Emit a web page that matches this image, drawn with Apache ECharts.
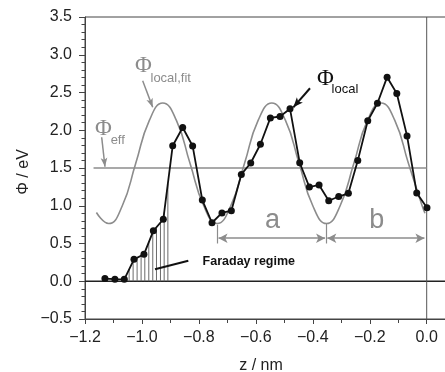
<!DOCTYPE html>
<html><head><meta charset="utf-8">
<script src="https://cdn.jsdelivr.net/npm/echarts@6/dist/echarts.min.js"></script>
<style>html,body{margin:0;padding:0;background:#fff}#c{width:445px;height:372px}</style>
</head><body><div id="c"></div>
<script>
// ---- data ----
const localZ = [-1.130,-1.095,-1.062,-1.028,-0.993,-0.960,-0.925,-0.892,-0.857,-0.822,-0.788,-0.754,-0.719,-0.686,-0.651,-0.618,-0.584,-0.549,-0.515,-0.480,-0.446,-0.412,-0.378,-0.344,-0.309,-0.275,-0.242,-0.207,-0.173,-0.139,-0.105,-0.069,-0.035,0.001];
const localPhi = [0.035,0.027,0.025,0.290,0.357,0.668,0.821,1.795,2.036,1.792,1.075,0.775,0.905,0.934,1.415,1.566,1.815,2.163,2.182,2.284,1.570,1.247,1.275,1.066,1.122,1.164,1.598,2.125,2.358,2.703,2.486,1.925,1.170,0.972];
const fitZ = [-1.160,-1.117,-1.069,-1.022,-0.974,-0.927,-0.879,-0.831,-0.783,-0.736,-0.688,-0.640,-0.592,-0.544,-0.496,-0.448,-0.400,-0.352,-0.304,-0.256,-0.208,-0.160,-0.112,-0.064,-0.016,-0.006];
const fitPhi = [0.91,0.765,1.00,1.56,2.13,2.36,2.13,1.56,1.00,0.765,1.00,1.56,2.13,2.36,2.13,1.56,1.00,0.765,1.00,1.56,2.13,2.36,2.13,1.56,1.00,0.90];
const effPhi = 1.5, effZStart = -1.17, effZEnd = 0.0;
const hatchZ = [-1.045,-1.031,-1.017,-1.003,-0.990,-0.976,-0.962,-0.949,-0.935,-0.922,-0.909];
const periodA = [-0.735, -0.353];
const periodB = [-0.353, -0.008];
const xTickLabels = ['\u22121.2','\u22121.0','\u22120.8','\u22120.6','\u22120.4','\u22120.2','0.0'];
const yTickLabels = ['\u22120.5','0.0','0.5','1.0','1.5','2.0','2.5','3.0','3.5'];

const GRAY = '#8c8c8c', AX = '#444', TXT = '#222';
const FONT = '"Liberation Sans", Arial, Helvetica, sans-serif';
const SERIF = '"Liberation Serif", "Times New Roman", serif';

function pairs(xs, ys){ return xs.map((x,i)=>[x, ys[i]]); }
function localAt(z){
  for (let i=0;i<localZ.length-1;i++){
    if (z>=localZ[i] && z<=localZ[i+1]){
      const t=(z-localZ[i])/(localZ[i+1]-localZ[i]);
      return localPhi[i]+t*(localPhi[i+1]-localPhi[i]);
    }
  }
  return 0;
}
function xFmt(v){
  const k = Math.round((v+1.2)/0.2);
  if (Math.abs(v-(-1.2+k*0.2))>1e-6 || k<0 || k>=xTickLabels.length) return '';
  return xTickLabels[k];
}
function yFmt(v){
  const k = Math.round((v+0.5)/0.5);
  return yTickLabels[k] || '';
}

const chart = echarts.init(document.getElementById('c'), null, {renderer:'canvas'});
const dummy = [[-1.2,-0.5]];
const option = {
  animation:false,
  grid:{left:85, top:17, bottom:53, right:-38.65, outerBoundsMode:'none', containLabel:false,
    show:true, borderColor:AX, borderWidth:1, backgroundColor:'transparent'},
  xAxis:{type:'value', min:-1.2, max:0.2, interval:0.2,
    axisLine:{show:true, onZero:false, lineStyle:{color:AX, width:1}},
    axisTick:{show:true, length:5, lineStyle:{color:AX}},
    minorTick:{show:true, splitNumber:2, length:4, lineStyle:{color:AX}},
    splitLine:{show:false}, minorSplitLine:{show:false},
    axisLabel:{margin:11, fontSize:16, color:TXT, fontFamily:FONT, formatter:xFmt, showMaxLabel:false}},
  yAxis:{type:'value', min:-0.5, max:3.5, interval:0.5,
    axisLine:{show:true, onZero:false, lineStyle:{color:AX, width:1}},
    axisTick:{show:true, length:6, lineStyle:{color:AX}},
    minorTick:{show:true, splitNumber:5, length:3.5, lineStyle:{color:AX}},
    splitLine:{show:false},
    axisLabel:{margin:13, fontSize:16, color:TXT, fontFamily:FONT, formatter:yFmt}},
  series:[
    {type:'line', data:[[-1.2,0],[0.2,0]], showSymbol:false, symbol:'none', lineStyle:{color:'#222', width:1.3}, z:1, silent:true},
    {type:'line', data:[[0,-0.5],[0,3.5]], showSymbol:false, symbol:'none', lineStyle:{color:'#555', width:1}, z:1, silent:true},
    {type:'line', data:[[effZStart,effPhi],[effZEnd,effPhi]], showSymbol:false, symbol:'none', lineStyle:{color:GRAY, width:1.5}, z:2, silent:true},
    {type:'custom', data:hatchZ.map(z=>[z, localAt(z)]), z:2, silent:true,
      renderItem:(params, api)=>{
        const p0 = api.coord([api.value(0), 0]);
        const p1 = api.coord([api.value(0), api.value(1)]);
        return {type:'line', shape:{x1:p0[0],y1:p0[1],x2:p1[0],y2:p1[1]}, style:{stroke:'#6a6a6a', lineWidth:1}};
      }},
    {type:'line', data:pairs(fitZ, fitPhi), smooth:0.5, showSymbol:false, symbol:'none', lineStyle:{color:GRAY, width:1.6}, z:3, silent:true},
    {type:'line', data:pairs(localZ, localPhi), symbol:'circle', symbolSize:7, itemStyle:{color:'#111'}, lineStyle:{color:'#111', width:1.8}, z:5, silent:true},
    {type:'line', data:dummy, showSymbol:false, symbol:'none', lineStyle:{width:0}, silent:true,
      markLine:{silent:true, animation:false, symbol:['none','arrow'], symbolSize:[5,9], label:{show:false},
        lineStyle:{color:GRAY, width:1.5, type:'solid'},
        data:[
          [{coord:[-0.9974,2.656]},{coord:[-0.9623,2.304]}],
          [{coord:[-1.1414,1.907]},{coord:[-1.1298,1.517]}]
        ]}},
    {type:'line', data:dummy, showSymbol:false, symbol:'none', lineStyle:{width:0}, silent:true,
      markLine:{silent:true, animation:false, symbol:['none','arrow'], symbolSize:[6,10], label:{show:false},
        lineStyle:{color:'#111', width:2, type:'solid'},
        data:[[{coord:[-0.4098,2.556]},{coord:[-0.4685,2.304]}]]}},
    {type:'line', data:dummy, showSymbol:false, symbol:'none', lineStyle:{width:0}, silent:true,
      markLine:{silent:true, animation:false, symbol:['none','none'], label:{show:false},
        lineStyle:{color:'#111', width:2, type:'solid'},
        data:[[{coord:[-0.9542,0.158]},{coord:[-0.8372,0.272]}]]}},
    {type:'line', data:dummy, showSymbol:false, symbol:'none', lineStyle:{width:0}, silent:true,
      markLine:{silent:true, animation:false, symbol:['arrow','arrow'], symbolSize:[7,9], label:{show:false},
        lineStyle:{color:GRAY, width:1.5, type:'solid'},
        data:[
          [{coord:[periodA[0]+0.004,0.57]},{coord:[periodA[1]-0.004,0.57]}],
          [{coord:[periodB[0]+0.004,0.57]},{coord:[periodB[1],0.57]}]
        ]}},
    {type:'line', data:dummy, showSymbol:false, symbol:'none', lineStyle:{width:0}, silent:true,
      markLine:{silent:true, animation:false, symbol:['none','none'], label:{show:false},
        lineStyle:{color:GRAY, width:1.2, type:'solid'},
        data:[
          [{coord:[periodA[0],0.75]},{coord:[periodA[0],0.50]}],
          [{coord:[periodA[1],0.76]},{coord:[periodA[1],0.50]}]
        ]}}
  ]
};
chart.setOption(option);

const notes = [
  {t:'\u03A6', z:-1.0244, v:2.851, font:'23px '+SERIF, color:GRAY, align:'left'},
  {t:'local,fit', z:-0.970, v:2.685, font:'13px '+FONT, color:GRAY, align:'left'},
  {t:'\u03A6', z:-1.165, v:2.023, font:'23px '+SERIF, color:GRAY, align:'left'},
  {t:'eff', z:-1.110, v:1.871, font:'13px '+FONT, color:GRAY, align:'left'},
  {t:'\u03A6', z:-0.385, v:2.679, font:'23px '+SERIF, color:'#111', align:'left'},
  {t:'local', z:-0.334, v:2.540, font:'13px '+FONT, color:'#111', align:'left'},
  {t:'Faraday regime', z:-0.787, v:0.255, font:'bold 12.5px '+FONT, color:'#111', align:'left'},
  {t:'a', z:-0.5415, v:0.805, font:'27px '+FONT, color:GRAY, align:'center'},
  {t:'b', z:-0.175, v:0.805, font:'27px '+FONT, color:GRAY, align:'center'}
];
const graphics = notes.map(n=>{
  const p = chart.convertToPixel({gridIndex:0}, [n.z, n.v]);
  return {type:'text', x:p[0], y:p[1], silent:true,
    style:{text:n.t, font:n.font, fill:n.color, textAlign:n.align, textVerticalAlign:'middle', verticalAlign:'middle'}};
});
graphics.push({type:'text', x:24, y:172, rotation:Math.PI/2, silent:true,
  style:{text:'\u03A6 / eV', font:'16px '+FONT, fill:TXT, textAlign:'center', textVerticalAlign:'middle', verticalAlign:'middle'}});
graphics.push({type:'text', x:261, y:366, silent:true,
  style:{text:'z / nm', font:'16px '+FONT, fill:TXT, textAlign:'center', textVerticalAlign:'middle', verticalAlign:'middle'}});
chart.setOption({graphic:graphics});
</script>
</body></html>
